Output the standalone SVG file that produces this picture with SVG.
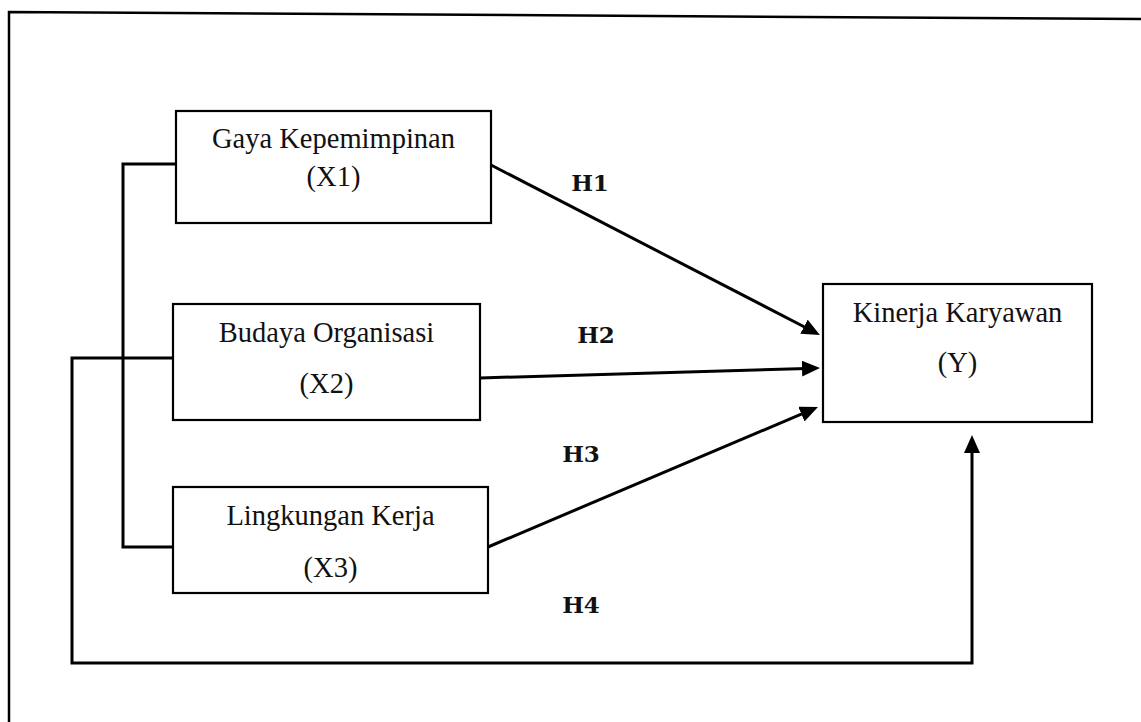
<svg xmlns="http://www.w3.org/2000/svg" width="1141" height="722" viewBox="0 0 1141 722">
<style>
.box{fill:#fff;stroke:#000;stroke-width:2.2}
.lbl{font-family:"Liberation Serif","Times New Roman",serif;font-size:28.5px;fill:#111;text-anchor:middle}
.h{font-family:"DejaVu Serif",serif;font-weight:bold;font-size:23px;fill:#111;text-anchor:middle}
.c{fill:none;stroke:#000;stroke-width:3}
.frame{fill:none;stroke:#000;stroke-width:2.5}
</style>
<defs>
<marker id="arr" markerUnits="userSpaceOnUse" markerWidth="20" markerHeight="18" refX="5" refY="8" orient="auto">
<path d="M0,0 L18,8 L0,16 z" fill="#000"/>
</marker>
</defs>
<rect width="1141" height="722" fill="#fff"/>
<path class="frame" d="M9,722 L9,12 L1141,19"/>
<g id="connectors">
<path class="c" d="M176,164 L123,164 L123,547 L173,547"/>
<path class="c" d="M173,358 L72,358 L72,663 L972,663 L972,448" marker-end="url(#arr)"/>
<line class="c" x1="491" y1="165" x2="808.4" y2="329" marker-end="url(#arr)"/>
<line class="c" x1="480" y1="378" x2="807" y2="368.4" marker-end="url(#arr)"/>
<line class="c" x1="488" y1="547" x2="806" y2="412.1" marker-end="url(#arr)"/>
<text class="h" x="590" y="191">H1</text>
<text class="h" x="596" y="343">H2</text>
<text class="h" x="581" y="462">H3</text>
<text class="h" x="581" y="613">H4</text>
</g>
<g id="x1">
<rect class="box" x="176" y="111" width="315" height="112"/>
<text class="lbl" x="333.5" y="148">Gaya Kepemimpinan</text>
<text class="lbl" x="333.5" y="186">(X1)</text>
</g>
<g id="x2">
<rect class="box" x="173" y="304" width="307" height="116"/>
<text class="lbl" x="326.5" y="342">Budaya Organisasi</text>
<text class="lbl" x="326.5" y="393">(X2)</text>
</g>
<g id="x3">
<rect class="box" x="173" y="487" width="315" height="106"/>
<text class="lbl" x="330.5" y="525">Lingkungan Kerja</text>
<text class="lbl" x="330.5" y="577">(X3)</text>
</g>
<g id="y">
<rect class="box" x="823" y="284" width="269" height="138"/>
<text class="lbl" x="957.5" y="322">Kinerja Karyawan</text>
<text class="lbl" x="957.5" y="372">(Y)</text>
</g>
</svg>
